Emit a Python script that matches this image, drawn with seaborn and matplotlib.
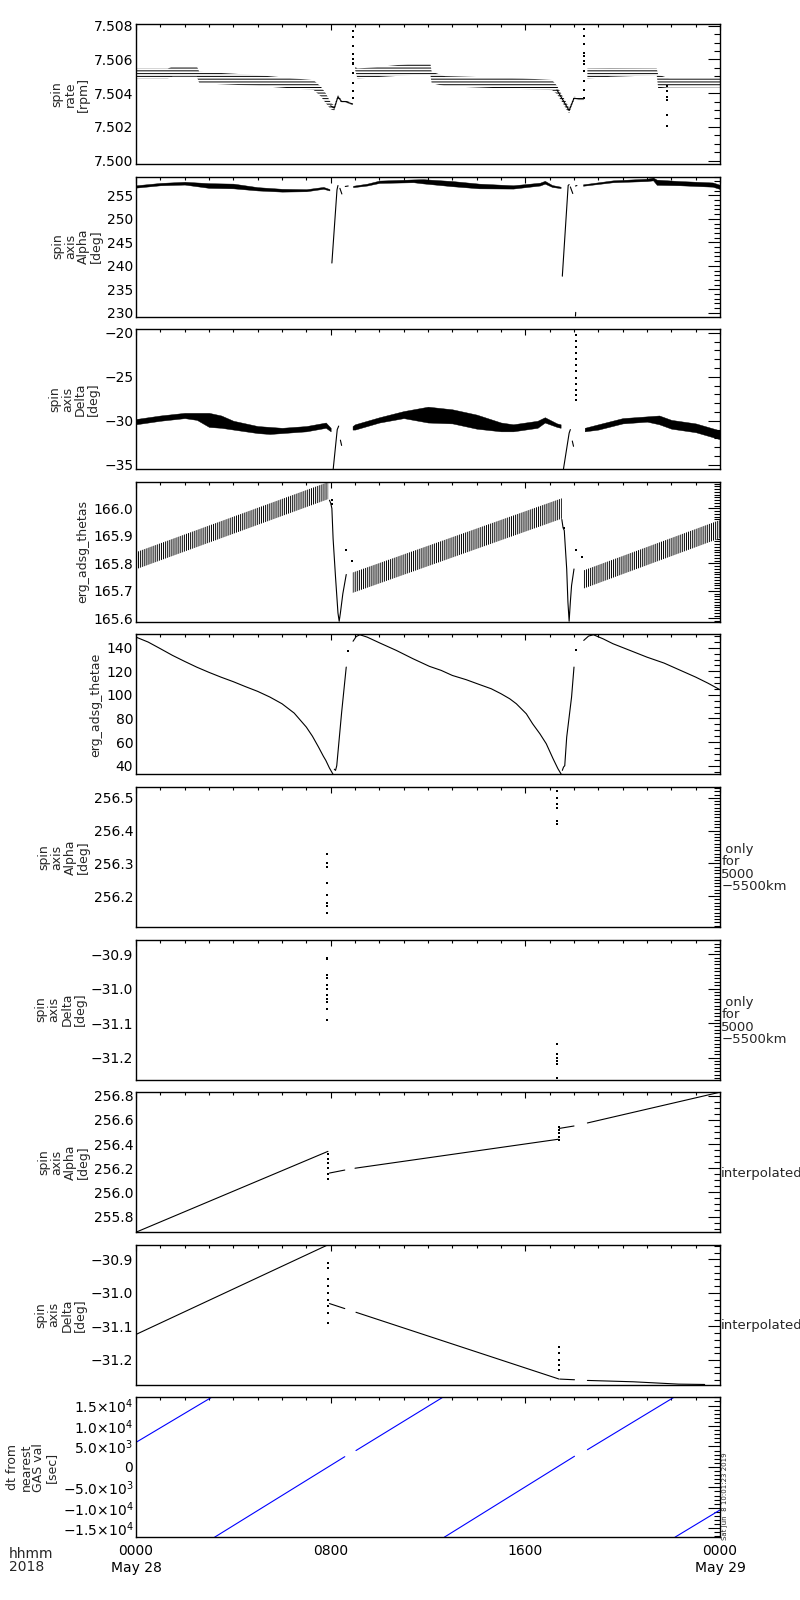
import numpy as np
import matplotlib
matplotlib.use("Agg")
import matplotlib.pyplot as plt
from matplotlib.ticker import MultipleLocator, FuncFormatter, FixedLocator, FixedFormatter
import seaborn as sns

# ---- spin rate [rpm] ----
rate_band1_t = [0.0, 1.3, 1.5, 2.5, 2.6, 5.0, 7.3, 7.6, 7.8, 8.0, 8.15, 8.3, 8.45, 8.6, 8.9]
rate_band1_c = [7.50516, 7.50516, 7.50528, 7.50528, 7.50493, 7.50475, 7.50448, 7.50409, 7.50370,
                7.50325, 7.50311, 7.50379, 7.50350, 7.50350, 7.50336]
rate_band1_hw = [0.00029, 0.00029, 0.00031, 0.00031, 0.00034, 0.00032, 0.00029, 0.00029, 0.00029,
                 0.00020, 0.00015, 0.00010, 0.00008, 0.00006, 0.00006]
rate_spike1_t = 8.93
rate_spike1_v = [7.5037, 7.5041, 7.5046, 7.5052, 7.5058, 7.5063, 7.5068, 7.5073, 7.5077, 7.5081, 7.5060, 7.5057]
rate_band2_t = [9.0, 9.1, 10.0, 11.4, 12.1, 12.15, 12.7, 15.9, 17.1, 17.3, 17.5, 17.7, 17.8, 18.0, 18.2, 18.4]
rate_band2_c = [7.50550, 7.50516, 7.50526, 7.50542, 7.50542, 7.50493, 7.50471, 7.50456, 7.50448,
                7.50419, 7.50370, 7.50321, 7.50297, 7.50370, 7.50366, 7.50366]
rate_band2_hw = [0.00010, 0.00030, 0.00030, 0.00034, 0.00034, 0.00034, 0.00030, 0.00032, 0.00030,
                 0.00025, 0.00020, 0.00020, 0.00015, 0.00010, 0.00008, 0.00008]
rate_spike2_t = 18.41
rate_spike2_v = [7.5037, 7.5042, 7.5047, 7.5053, 7.5059, 7.5064, 7.5069, 7.5074, 7.5078, 7.5081, 7.5062, 7.5057]
rate_band3_t = [18.55, 19.5, 21.4, 21.46, 21.9, 24.0]
rate_band3_c = [7.50516, 7.50522, 7.50526, 7.50469, 7.50462, 7.50462]
rate_band3_hw = [0.00030, 0.00025, 0.00020, 0.00040, 0.00027, 0.00027]
rate_drop_t = 21.83
rate_drop_v = [7.5044, 7.5041, 7.50379, 7.5036, 7.50272, 7.50203]

# ---- spin axis Alpha [deg] ----
alpha_band1_t = [0, 1, 2, 3, 4, 5, 6, 7, 7.7, 7.95]
alpha_band1_c = [256.9, 257.4, 257.6, 257.1, 257.0, 256.4, 256.1, 256.1, 256.6, 256.2]
alpha_band1_hw = [0.25, 0.25, 0.3, 0.5, 0.5, 0.35, 0.3, 0.22, 0.2, 0.15]
alpha_band2_t = [8.92, 9.5, 10.0, 11.4, 11.8, 13.0, 14.1, 15.5, 16.6, 16.8, 17.1, 17.45]
alpha_band2_c = [256.9, 257.3, 257.9, 258.1, 258.0, 257.5, 257.0, 256.8, 257.4, 257.8, 257.0, 256.7]
alpha_band2_hw = [0.15, 0.2, 0.25, 0.3, 0.45, 0.55, 0.5, 0.35, 0.3, 0.3, 0.2, 0.15]
alpha_band3_t = [18.37, 19.6, 21.0, 21.25, 21.4, 22.35, 23.7, 24.0]
alpha_band3_c = [257.2, 258.0, 258.3, 258.5, 257.8, 257.6, 257.3, 256.8]
alpha_band3_hw = [0.15, 0.2, 0.25, 0.3, 0.55, 0.45, 0.45, 0.45]
alpha_lines = [
    ([8.05, 8.26, 8.3], [240.6, 256.2, 257.1]),
    ([8.38, 8.46], [256.5, 255.3]),
    ([8.6, 8.72], [256.9, 257.0]),
    ([17.52, 17.76, 17.8], [237.8, 257.1, 257.3]),
    ([17.85, 17.95], [256.8, 255.4]),
    ([18.06, 18.12], [257.0, 257.1]),
    ([18.06, 18.07], [229.3, 230.1]),
]

# ---- spin axis Delta [deg] ----
delta_band1_t = [0, 1, 2, 2.5, 3, 3.5, 4, 5, 5.5, 6, 7, 7.8, 8.0]
delta_band1_c = [-30.1, -29.7, -29.4, -29.5, -29.9, -30.1, -30.5, -31.0, -31.1, -31.1, -30.9, -30.5, -31.0]
delta_band1_hw = [0.3, 0.3, 0.3, 0.4, 0.8, 0.7, 0.5, 0.4, 0.4, 0.3, 0.3, 0.3, 0.2]
delta_band2_t = [8.9, 9, 10, 11, 12, 13, 14, 15, 15.5, 16, 16.5, 16.8, 17.3, 17.45]
delta_band2_c = [-30.8, -30.7, -29.9, -29.3, -29.3, -29.5, -30.1, -30.7, -30.8, -30.6, -30.4, -29.9, -30.5, -30.6]
delta_band2_hw = [0.2, 0.3, 0.3, 0.4, 0.9, 0.8, 0.8, 0.5, 0.4, 0.4, 0.4, 0.3, 0.2, 0.2]
delta_band3_t = [18.44, 19, 20, 21, 21.5, 22, 23, 24]
delta_band3_c = [-31.0, -30.7, -30.0, -29.8, -29.9, -30.4, -30.8, -31.6]
delta_band3_hw = [0.2, 0.3, 0.3, 0.3, 0.5, 0.5, 0.5, 0.5]
delta_lines = [
    ([8.1, 8.27, 8.33], [-35.6, -31.0, -30.6]),
    ([8.4, 8.45], [-32.2, -32.8]),
    ([17.56, 17.8, 17.85], [-35.6, -31.4, -31.0]),
    ([17.93, 17.98], [-32.3, -32.9]),
]
delta_spike_t = 18.08
delta_spike_v = [-20.3, -20.9, -21.6, -22.3, -23.0, -23.7, -24.4, -25.1, -25.8, -26.5, -27.1, -27.6]

# ---- erg_adsg_thetas ----
thetas_band_t = [[0.0, 7.9], [8.9, 17.5], [18.4, 24.0]]
thetas_band_c = [[165.81, 166.065], [165.73, 166.0], [165.742, 165.925]]
thetas_band_hw = [0.031, 0.037, 0.033]
thetas_drop1_t = [7.95, 8.0, 8.05, 8.1, 8.2, 8.3, 8.35, 8.4, 8.5, 8.6, 8.64]
thetas_drop1_v = [166.03, 166.02, 166.0, 165.89, 165.75, 165.62, 165.59, 165.62, 165.69, 165.74, 165.76]
thetas_drop2_t = [17.5, 17.55, 17.6, 17.7, 17.75, 17.8, 17.85, 17.9, 18.0]
thetas_drop2_v = [165.96, 165.93, 165.92, 165.78, 165.66, 165.59, 165.66, 165.72, 165.78]
thetas_dots_t = [8.05, 8.05, 8.64, 8.88, 17.6, 18.07, 18.34]
thetas_dots_v = [166.03, 166.015, 165.85, 165.81, 165.93, 165.85, 165.825]

# ---- erg_adsg_thetae ----
thetae_segs = [
    ([0, 0.5, 1, 1.5, 2, 2.5, 3, 3.5, 4, 4.5, 5, 5.5, 6, 6.5, 7, 7.25, 7.5, 7.7, 7.8, 7.95, 8.1],
     [149, 144.8, 139.2, 133.5, 128.4, 123.5, 119.1, 115, 111.2, 107, 103, 98.2, 92.5, 84.6, 72.7,
      65, 55.8, 48, 44.5, 38, 32.6]),
    ([8.15, 8.2, 8.25, 8.45, 8.64], [37, 36, 40, 85, 123.6]),
    ([8.92, 9.05, 9.2, 9.5, 10.0, 10.7, 11.38, 12.06, 12.54, 13.0, 13.57, 14.1, 14.6, 15.0, 15.36,
      15.63, 16.04, 16.3, 16.6, 16.86, 17.14, 17.34, 17.48],
     [145.5, 149.5, 151, 149, 144.2, 137.7, 130.7, 124.2, 120.8, 116.5, 112.9, 108.9, 105.2, 101, 96.7,
      92.5, 84, 75.5, 67, 58.6, 45.9, 37.4, 32.6]),
    ([17.52, 17.57, 17.62, 17.7, 17.9, 18.0], [36, 38.8, 40, 64.2, 98.2, 123.6]),
    ([18.4, 18.6, 18.8, 19.2, 19.6, 20.4, 21.0, 21.7, 22.3, 23.0, 23.5, 24.0],
     [146.2, 149.9, 151, 147.5, 143.4, 136.9, 132, 127, 121.5, 115.1, 110, 104.4]),
]
thetae_dots_t = [8.7, 18.07]
thetae_dots_v = [137.0, 137.7]

# ---- only for 5000-5500km ----
alpha_only_t = [7.85, 17.3]
alpha_only_v = [[256.33, 256.30, 256.29, 256.24, 256.205, 256.18, 256.17, 256.15],
                [256.52, 256.50, 256.48, 256.47, 256.43, 256.42]]
delta_only_t = [7.85, 17.3]
delta_only_v = [[-30.91, -30.915, -30.96, -30.97, -30.99, -31.0, -31.02, -31.03, -31.04, -31.06, -31.09],
                [-31.16, -31.19, -31.20, -31.21, -31.22, -31.26]]

# ---- interpolated ----
alpha_int_segs = [
    ([0.0, 7.89], [255.67, 256.34]),
    ([7.95, 8.58], [256.16, 256.185]),
    ([9.0, 17.35], [256.2, 256.44]),
    ([17.4, 18.0], [256.53, 256.55]),
    ([18.55, 24.0], [256.575, 256.83]),
]
alpha_int_dots_t = [7.91, 17.37]
alpha_int_dots_v = [[256.32, 256.28, 256.24, 256.2, 256.15, 256.11],
                    [256.43, 256.46, 256.49, 256.52, 256.54]]
delta_int_segs = [
    ([0.0, 7.89], [-31.124, -30.857]),
    ([7.95, 8.58], [-31.032, -31.047]),
    ([9.04, 17.39], [-31.058, -31.257]),
    ([17.43, 18.02], [-31.257, -31.259]),
    ([18.55, 20.43, 22.3, 23.37], [-31.261, -31.265, -31.272, -31.273]),
]
delta_int_dots_t = [7.91, 17.37]
delta_int_dots_v = [[-30.91, -30.925, -30.96, -30.98, -31.0, -31.02, -31.04, -31.06, -31.09],
                    [-31.16, -31.18, -31.2, -31.215, -31.23]]

# ---- dt from nearest GAS val [sec] ----
dt_segs = [
    ([0.0, 3.1], [6000, 17000]),
    ([3.23, 8.58], [-17200, 2500]),
    ([9.04, 12.6], [4000, 17000]),
    ([12.67, 18.02], [-17200, 2600]),
    ([18.55, 22.1], [4200, 17000]),
    ([22.15, 24.0], [-17200, -10540]),
]

ylabels = ["spin\nrate\n[rpm]", "spin\naxis\nAlpha\n[deg]", "spin\naxis\nDelta\n[deg]",
           "erg_adsg_thetas", "erg_adsg_thetae",
           "spin\naxis\nAlpha\n[deg]", "spin\naxis\nDelta\n[deg]",
           "spin\naxis\nAlpha\n[deg]", "spin\naxis\nDelta\n[deg]",
           "dt from\nnearest\nGAS val\n[sec]"]
ylims = [(7.4998, 7.5081), (229.2, 259.0), (-35.5, -19.6), (165.588, 166.097), (32.6, 151.3),
         (256.106, 256.533), (-31.264, -30.858), (255.67, 256.83), (-31.274, -30.857), (-17250, 17000)]
ymajor = [0.002, 5, 5, 0.1, 20, 0.1, 0.1, 0.2, 0.1, 5000]
yminor = [0.0005, 1, 1, 0.01, 5, 0.01, 0.01, 0.05, 0.02, 1000]
yfmt = ["%.3f", "%d", "%d", "%.1f", "%d", "%.1f", "%.1f", "%.1f", "%.1f", None]
right_texts = [None, None, None, None, None,
               " only\nfor\n5000\n\u22125500km", " only\nfor\n5000\n\u22125500km",
               "interpolated", "interpolated", None]
xtick_pos = [0, 8, 16, 24]
xtick_labels = ["0000\nMay 28", "0800", "1600", "0000\nMay 29"]

sns.set_theme(style="white")
plt.rcParams["font.family"] = ["DejaVu Sans"]
plt.rcParams["hatch.linewidth"] = 0.7
plt.rcParams["hatch.color"] = "black"

LW = 0.8


def band(ax, t, c, hw, hatch=None):
    c = np.asarray(c, float)
    hw = np.asarray(hw, float) * np.ones_like(c)
    if hatch is None:
        ax.fill_between(t, c - hw, c + hw, color="black", lw=0.3)
    else:
        ax.fill_between(t, c - hw, c + hw, facecolor="white", edgecolor="black", hatch=hatch, lw=0)


def line(ax, t, v, color="black"):
    sns.lineplot(x=t, y=v, color=color, lw=LW, sort=False, estimator=None, ax=ax)


def dots(ax, t, v):
    t = np.broadcast_to(np.asarray(t, float), np.shape(v))
    sns.scatterplot(x=t, y=v, color="black", s=3, marker="s", linewidth=0, ax=ax)


def make_fmt(f):
    return FuncFormatter(lambda val, pos: (f % val).replace("-", "\u2212"))


def dt_fmt(val, pos):
    if abs(val) < 1:
        return "0"
    sign = "\u2212" if val < 0 else ""
    a = abs(val)
    e = int(np.floor(np.log10(a)))
    return sign + "%.1f" % (a / 10 ** e) + r"$\times$10$^{%d}$" % e


fig = plt.figure(figsize=(8, 16), dpi=100)
axes = []
for i in range(10):
    top = 24 + 152.6 * i
    ax = fig.add_axes([136 / 800, 1 - (top + 140) / 1600, 584 / 800, 140 / 1600])
    axes.append(ax)

# panel 1
ax = axes[0]
band(ax, rate_band1_t, rate_band1_c, rate_band1_hw, hatch="------")
band(ax, rate_band2_t, rate_band2_c, rate_band2_hw, hatch="------")
band(ax, rate_band3_t, rate_band3_c, rate_band3_hw, hatch="------")
line(ax, rate_band1_t[9:], rate_band1_c[9:])
line(ax, rate_band2_t[9:], rate_band2_c[9:])
dots(ax, rate_spike1_t, rate_spike1_v)
dots(ax, rate_spike2_t, rate_spike2_v)
dots(ax, rate_drop_t, rate_drop_v)

# panel 2
ax = axes[1]
band(ax, alpha_band1_t, alpha_band1_c, alpha_band1_hw)
band(ax, alpha_band2_t, alpha_band2_c, alpha_band2_hw)
band(ax, alpha_band3_t, alpha_band3_c, alpha_band3_hw)
for t, v in alpha_lines:
    line(ax, t, v)

# panel 3
ax = axes[2]
band(ax, delta_band1_t, delta_band1_c, delta_band1_hw)
band(ax, delta_band2_t, delta_band2_c, delta_band2_hw)
band(ax, delta_band3_t, delta_band3_c, delta_band3_hw)
for t, v in delta_lines:
    line(ax, t, v)
dots(ax, delta_spike_t, delta_spike_v)

# panel 4
ax = axes[3]
for t, c, hw in zip(thetas_band_t, thetas_band_c, thetas_band_hw):
    band(ax, t, c, hw, hatch="||||||||")
line(ax, thetas_drop1_t, thetas_drop1_v)
line(ax, thetas_drop2_t, thetas_drop2_v)
dots(ax, thetas_dots_t, thetas_dots_v)

# panel 5
ax = axes[4]
for t, v in thetae_segs:
    line(ax, t, v)
dots(ax, thetae_dots_t, thetae_dots_v)

# panels 6, 7
for t, v in zip(alpha_only_t, alpha_only_v):
    dots(axes[5], t, v)
for t, v in zip(delta_only_t, delta_only_v):
    dots(axes[6], t, v)

# panels 8, 9
for t, v in alpha_int_segs:
    line(axes[7], t, v)
for t, v in zip(alpha_int_dots_t, alpha_int_dots_v):
    dots(axes[7], t, v)
for t, v in delta_int_segs:
    line(axes[8], t, v)
for t, v in zip(delta_int_dots_t, delta_int_dots_v):
    dots(axes[8], t, v)

# panel 10
for t, v in dt_segs:
    line(axes[9], t, v, color="#0000ff")

for i, ax in enumerate(axes):
    ax.set_xlim(0, 24)
    ax.set_ylim(*ylims[i])
    ax.xaxis.set_major_locator(FixedLocator(xtick_pos))
    ax.xaxis.set_minor_locator(MultipleLocator(1))
    ax.yaxis.set_major_locator(MultipleLocator(ymajor[i]))
    ax.yaxis.set_minor_locator(MultipleLocator(yminor[i]))
    if yfmt[i] is None:
        ax.yaxis.set_major_formatter(FuncFormatter(dt_fmt))
    else:
        ax.yaxis.set_major_formatter(make_fmt(yfmt[i]))
    ax.tick_params(axis="both", which="both", direction="in", top=True, right=True,
                   colors="black", labelsize=10, width=0.8)
    ax.tick_params(axis="y", which="major", length=8.5, pad=2)
    ax.tick_params(axis="y", which="minor", length=4.3)
    ax.tick_params(axis="x", which="major", length=4)
    ax.tick_params(axis="x", which="minor", length=2.5)
    for s in ax.spines.values():
        s.set_color("black")
        s.set_linewidth(1.0)
    ax.set_xlabel("")
    ax.set_ylabel(ylabels[i], fontsize=9, linespacing=1.0, labelpad=3)
    if i < 9:
        ax.set_xticklabels([])
    else:
        ax.xaxis.set_major_formatter(FixedFormatter(xtick_labels))
        ax.tick_params(axis="x", which="major", pad=5)
    if right_texts[i] is not None:
        ax.text(1.002, 0.42, right_texts[i], transform=ax.transAxes, fontsize=9.5,
                ha="left", va="center", linespacing=0.95)

fig.text(9 / 800, 1 - 1547 / 1600, "hhmm\n2018", fontsize=10, ha="left", va="top", linespacing=0.95)
fig.text(725 / 800, 1 - 1540 / 1600, "Sat Jun  8 10:01:23 2019", fontsize=5, rotation=90,
         ha="center", va="bottom")

fig.savefig("out.png", dpi=100)
